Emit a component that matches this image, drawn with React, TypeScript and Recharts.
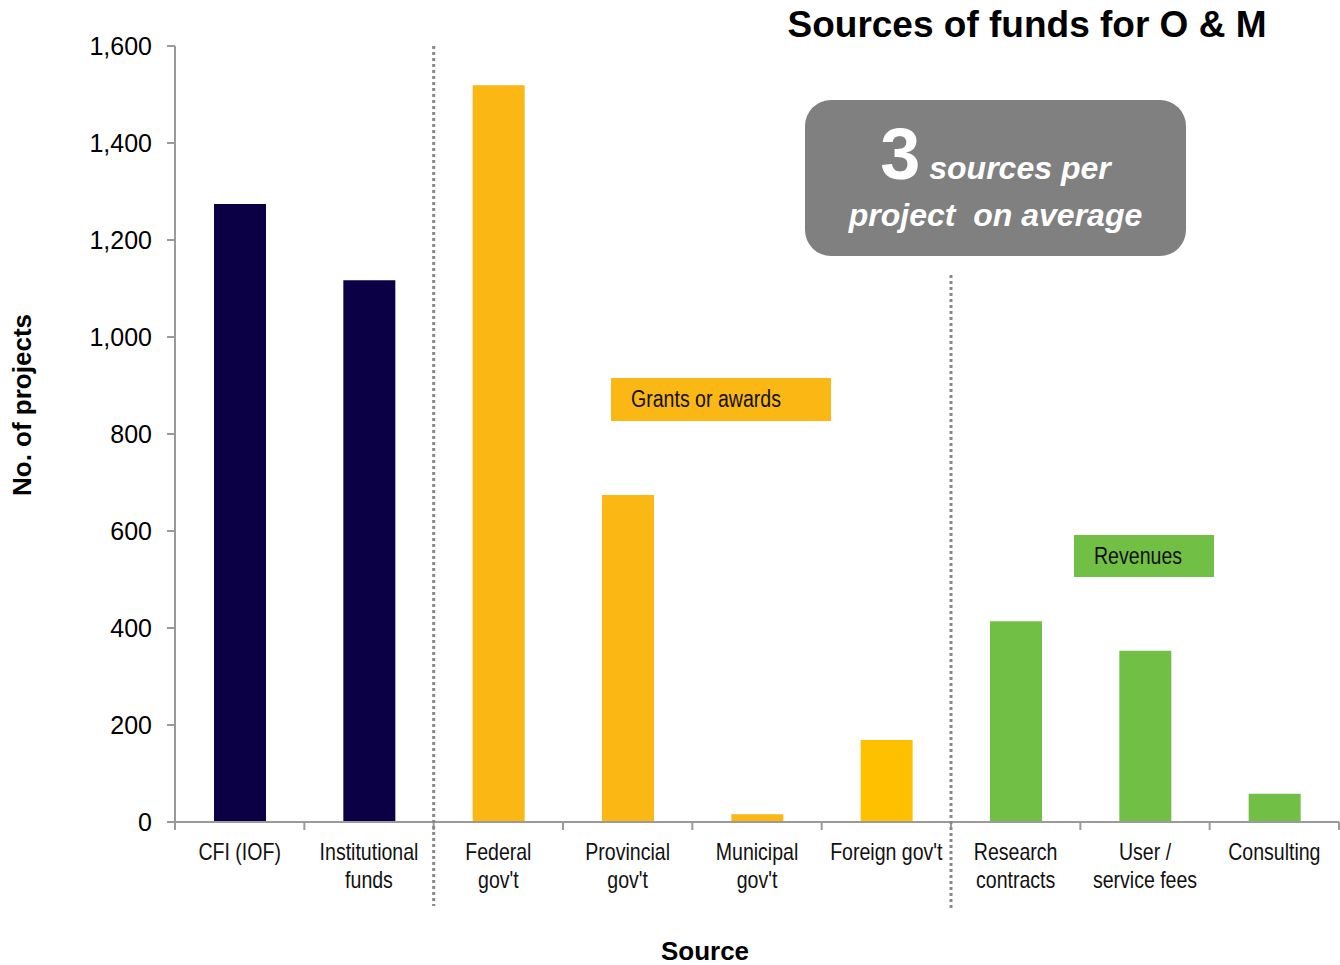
import React from 'react';
import { BarChart, Bar, XAxis, YAxis, Cell } from 'recharts';

// Data
const sources = [
  'CFI (IOF)|',
  'Institutional|funds',
  'Federal|gov\'t',
  'Provincial|gov\'t',
  'Municipal|gov\'t',
  'Foreign gov\'t|',
  'Research|contracts',
  'User /|service fees',
  'Consulting|',
];
const projects = [1274, 1117, 1519, 674, 16, 169, 414, 353, 58];
const barColors = [
  '#0B0046', '#0B0046',
  '#FBB714', '#FBB714', '#FBB714', '#FFC000',
  '#71BF44', '#71BF44', '#71BF44',
];
const yTicks = [0, 200, 400, 600, 800, 1000, 1200, 1400, 1600];

const chartData = sources.map((s, i) => ({ source: s, projects: projects[i] }));

const W = 1340;
const H = 965;
const PLOT_LEFT = 175;
const PLOT_RIGHT = 1;
const PLOT_TOP = 46;
const X_AXIS_H = 143;
const AXIS_Y = H - X_AXIS_H;
const BAND = (W - PLOT_LEFT - PLOT_RIGHT) / sources.length;

// no Arial Narrow available, so squeeze Liberation Sans horizontally
const sans = '"Liberation Sans", Arial, sans-serif';
const NARROW = 0.85;
const axisGray = '#9a9a9a';
const dotGray = '#888';

const SourceTick = (props: any) => {
  const { x, payload, index } = props;
  const lines = String(payload.value).split('|').filter((l) => l);
  return (
    <g>
      {index === 0 && (
        <line x1={x - BAND / 2} x2={x - BAND / 2} y1={AXIS_Y} y2={AXIS_Y + 8} stroke={axisGray} strokeWidth={2} />
      )}
      <line x1={x + BAND / 2} x2={x + BAND / 2} y1={AXIS_Y} y2={AXIS_Y + 8} stroke={axisGray} strokeWidth={2} />
      {index === 1 && (
        <line
          x1={x + BAND / 2}
          x2={x + BAND / 2}
          y1={PLOT_TOP}
          y2={AXIS_Y + 84}
          stroke={dotGray}
          strokeWidth={3}
          strokeDasharray="3 3"
        />
      )}
      {index === 5 && (
        <line
          x1={x + BAND / 2}
          x2={x + BAND / 2}
          y1={275}
          y2={AXIS_Y + 89}
          stroke={dotGray}
          strokeWidth={3}
          strokeDasharray="3 3"
        />
      )}
      {lines.map((l, i) => (
        <text
          key={i}
          transform={`translate(${x}, ${AXIS_Y + 38 + i * 28}) scale(${NARROW}, 1)`}
          textAnchor="middle"
          fontFamily={sans}
          fontSize={23}
          fill="#111"
        >
          {l}
        </text>
      ))}
    </g>
  );
};

const narrowSpan = (text: string) => (
  <span style={{ display: 'inline-block', transform: `scaleX(${NARROW})`, transformOrigin: 'left center' }}>
    {text}
  </span>
);

export default function App() {
  return (
    <div style={{ position: 'absolute', left: 0, top: 0, width: W, height: H, background: '#fff' }}>
      <BarChart
        width={W}
        height={H}
        data={chartData}
        margin={{ top: PLOT_TOP, right: PLOT_RIGHT, left: 0, bottom: 0 }}
      >
        <XAxis
          dataKey="source"
          height={X_AXIS_H}
          interval={0}
          tickLine={false}
          axisLine={{ stroke: axisGray, strokeWidth: 2 }}
          tick={<SourceTick />}
        />
        <YAxis
          width={PLOT_LEFT}
          domain={[0, 1600]}
          ticks={yTicks}
          interval={0}
          tickSize={8}
          tickMargin={15}
          tickLine={{ stroke: axisGray, strokeWidth: 2 }}
          axisLine={{ stroke: axisGray, strokeWidth: 2 }}
          tick={{ fontFamily: sans, fontSize: 25, fill: '#000' }}
          tickFormatter={(v: number) => v.toLocaleString('en-US')}
        />
        <Bar dataKey="projects" barSize={52} isAnimationActive={false}>
          {chartData.map((d, i) => (
            <Cell key={d.source} fill={barColors[i]} />
          ))}
        </Bar>
      </BarChart>

      {/* axis titles */}
      <div
        style={{
          position: 'absolute',
          left: 605,
          width: 200,
          top: 936,
          textAlign: 'center',
          fontFamily: sans,
          fontWeight: 'bold',
          fontSize: 26,
          lineHeight: '30px',
          color: '#000',
        }}
      >
        Source
      </div>
      <div
        style={{
          position: 'absolute',
          left: 22 - 150,
          top: 405 - 15,
          width: 300,
          height: 30,
          textAlign: 'center',
          fontFamily: sans,
          fontWeight: 'bold',
          fontSize: 26,
          lineHeight: '30px',
          color: '#000',
          transform: 'rotate(-90deg)',
        }}
      >
        No. of projects
      </div>

      <div
        style={{
          position: 'absolute',
          left: 727,
          top: 4,
          width: 600,
          textAlign: 'center',
          fontFamily: sans,
          fontWeight: 'bold',
          fontSize: 37,
          color: '#000',
        }}
      >
        Sources of funds for O &amp; M
      </div>

      <div
        style={{
          position: 'absolute',
          left: 805,
          top: 100,
          width: 381,
          height: 156,
          borderRadius: 26,
          background: '#808080',
          color: '#fff',
          fontFamily: sans,
          fontWeight: 'bold',
          textAlign: 'center',
        }}
      >
        <div style={{ position: 'absolute', left: 0, right: 0, top: 14, whiteSpace: 'nowrap' }}>
          <span style={{ fontSize: 72, lineHeight: '80px' }}>3</span>
          <span style={{ fontSize: 32, fontStyle: 'italic' }}> sources per</span>
        </div>
        <div
          style={{
            position: 'absolute',
            left: 0,
            right: 0,
            top: 97,
            fontSize: 32,
            fontStyle: 'italic',
            whiteSpace: 'pre',
          }}
        >
          {'project  on average'}
        </div>
      </div>

      <div
        style={{
          position: 'absolute',
          left: 611,
          top: 378,
          width: 220,
          height: 43,
          background: '#FBB714',
          fontFamily: sans,
          fontSize: 23,
          lineHeight: '43px',
          paddingLeft: 20,
          boxSizing: 'border-box',
          color: '#111',
          whiteSpace: 'nowrap',
        }}
      >
        {narrowSpan('Grants or awards')}
      </div>

      <div
        style={{
          position: 'absolute',
          left: 1074,
          top: 535,
          width: 140,
          height: 42,
          background: '#71BF44',
          fontFamily: sans,
          fontSize: 23,
          lineHeight: '42px',
          paddingLeft: 20,
          boxSizing: 'border-box',
          color: '#111',
          whiteSpace: 'nowrap',
        }}
      >
        {narrowSpan('Revenues')}
      </div>
    </div>
  );
}
